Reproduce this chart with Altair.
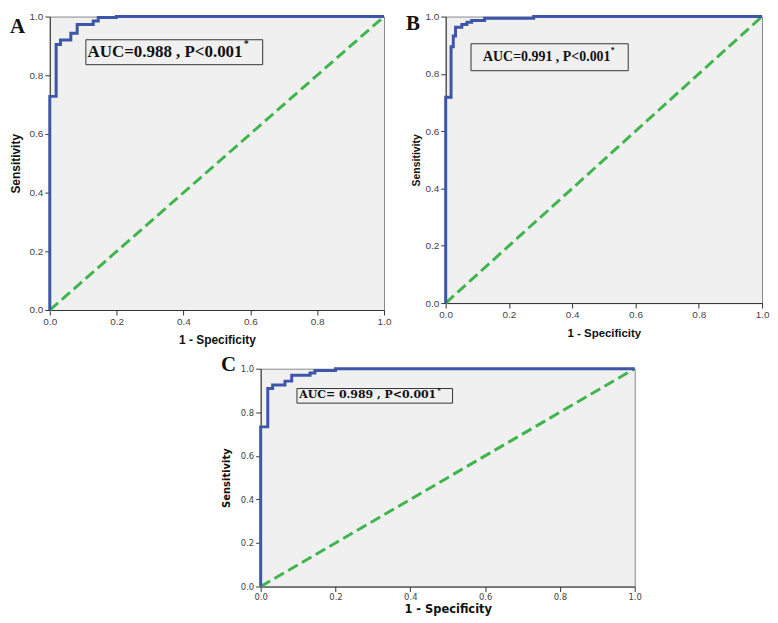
import altair as alt
import pandas as pd

# ---------------- data ----------------
TICKS = [0.0, 0.2, 0.4, 0.6, 0.8, 1.0]

a_fpr = [0, 0, 0.019, 0.019, 0.032, 0.032, 0.063, 0.063, 0.082, 0.082, 0.130, 0.130, 0.145, 0.145, 0.199, 0.199, 1.0]
a_tpr = [0, 0.728, 0.728, 0.905, 0.905, 0.920, 0.920, 0.943, 0.943, 0.973, 0.973, 0.985, 0.985, 0.997, 0.997, 1.0, 1.0]

b_fpr = [0, 0, 0.017, 0.017, 0.024, 0.024, 0.031, 0.031, 0.051, 0.051, 0.067, 0.067, 0.082, 0.082, 0.123, 0.123, 0.278, 0.278, 1.0]
b_tpr = [0, 0.718, 0.718, 0.895, 0.895, 0.932, 0.932, 0.963, 0.963, 0.972, 0.972, 0.980, 0.980, 0.986, 0.986, 0.994, 0.994, 1.0, 1.0]

c_fpr = [0, 0, 0.019, 0.019, 0.032, 0.032, 0.065, 0.065, 0.083, 0.083, 0.132, 0.132, 0.145, 0.145, 0.200, 0.200, 1.0]
c_tpr = [0, 0.733, 0.733, 0.909, 0.909, 0.925, 0.925, 0.943, 0.943, 0.970, 0.970, 0.980, 0.980, 0.992, 0.992, 1.0, 1.0]

diag_fpr = [0.0, 1.0]
diag_tpr = [0.0, 1.0]

letters = ["A", "B", "C"]
auc_labels = ["AUC=0.988 , P<0.001", "AUC=0.991 , P<0.001", "AUC= 0.989 , P<0.001"]
star = "*"

BLUE = "#3d56a8"
GREEN = "#3fb54b"
BG = "#f0f0f0"


def panel(fpr, tpr, letter, label, box, text_xy, star_xy, w, h, st):
    xs = alt.Scale(domain=[0, 1], nice=False, zero=False)
    ys = alt.Scale(domain=[0, 1], nice=False, zero=False)
    xaxis = alt.Axis(values=TICKS, format=".1f", grid=False, labelFlush=False, labelOverlap=False,
                     tickSize=5, tickColor="#333", domainColor="#333",
                     labelFont=st["lf"], labelFontSize=st["ls"], labelColor="#444", labelPadding=st["lpx"],
                     titleFont=st["tf"], titleFontSize=st["tsx"], titleFontWeight="bold", titleColor="#111",
                     titlePadding=st["tpx"])
    yaxis = alt.Axis(values=TICKS, format=".1f", grid=False, labelFlush=False, labelOverlap=False,
                     tickSize=5, tickColor="#333", domainColor="#333",
                     labelFont=st["lf"], labelFontSize=st["ls"], labelColor="#444", labelPadding=2,
                     titleFont=st["tf"], titleFontSize=st["tsy"], titleFontWeight="bold", titleColor="#111",
                     titlePadding=st["tpy"])
    X = alt.X("fpr:Q", scale=xs, axis=xaxis, title="1 - Specificity")
    Y = alt.Y("tpr:Q", scale=ys, axis=yaxis, title="Sensitivity")

    roc_df = pd.DataFrame({"fpr": fpr, "tpr": tpr, "i": list(range(len(fpr)))})
    diag_df = pd.DataFrame({"fpr": diag_fpr, "tpr": diag_tpr, "i": [0, 1]})
    box_df = pd.DataFrame({"fpr": [box[0]], "fpr2": [box[1]], "tpr": [box[2]], "tpr2": [box[3]]})
    txt_df = pd.DataFrame({"fpr": [text_xy[0]], "tpr": [text_xy[1]], "label": [label]})
    star_df = pd.DataFrame({"fpr": [star_xy[0]], "tpr": [star_xy[1]], "label": [star]})
    let_df = pd.DataFrame({"label": [letter]})

    diag = alt.Chart(diag_df).mark_line(color=GREEN, strokeWidth=3, strokeDash=[11, 5]).encode(
        x=X, y=Y, order="i:Q")
    roc = alt.Chart(roc_df).mark_line(color=BLUE, strokeWidth=3, interpolate="linear").encode(
        x=X, y=Y, order="i:Q")
    rect = alt.Chart(box_df).mark_rect(fill=BG, stroke="#333", strokeWidth=1).encode(
        x=X, x2=alt.X2("fpr2:Q"), y=Y, y2=alt.Y2("tpr2:Q"))
    txt = alt.Chart(txt_df).mark_text(align="left", baseline="middle", font=st["af"],
                                      fontWeight="bold", fontSize=st["as"], color="#111").encode(
        x=X, y=Y, text="label:N")
    stx = alt.Chart(star_df).mark_text(align="left", baseline="middle", font=st["af"],
                                       fontWeight="bold", fontSize=st["ss"], color="#111").encode(
        x=X, y=Y, text="label:N")
    let = alt.Chart(let_df).mark_text(align="left", baseline="alphabetic", font="Liberation Serif",
                                      fontWeight="bold", fontSize=21, color="#111").encode(
        x=alt.value(-40), y=alt.value(st["ly"]), text="label:N")

    return alt.layer(diag, roc, rect, txt, stx, let).properties(
        width=w, height=h,
        view=alt.ViewBackground(fill=BG, stroke="#888", strokeWidth=1))


st_a = dict(lf="Liberation Sans", ls=10, lpx=2, tf="Liberation Sans", tsx=12, tsy=12, tpx=8, tpy=7,
            af="Liberation Serif", **{"as": 17}, ss=10, ly=17)
st_b = dict(lf="Liberation Sans", ls=10, lpx=2, tf="Liberation Sans", tsx=11.5, tsy=10.5, tpx=8, tpy=3,
            af="Liberation Serif", **{"as": 14}, ss=8, ly=14)
st_c = dict(lf="DejaVu Sans", ls=8.5, lpx=1, tf="DejaVu Sans", tsx=11.5, tsy=10, tpx=3, tpy=9,
            af="DejaVu Serif", **{"as": 11}, ss=7, ly=2)

pa = panel(a_fpr, a_tpr, letters[0], auc_labels[0],
           (0.108, 0.637, 0.921, 0.836), (0.113, 0.878), (0.580, 0.905), 336, 295, st_a)
pb = panel(b_fpr, b_tpr, letters[1], auc_labels[1],
           (0.080, 0.577, 0.905, 0.811), (0.118, 0.858), (0.522, 0.878), 318, 288, st_b)
pc = panel(c_fpr, c_tpr, letters[2], auc_labels[2],
           (0.097, 0.513, 0.909, 0.842), (0.103, 0.877), (0.472, 0.896), 376, 219, st_c)

spacer = alt.Chart(pd.DataFrame({"k": [0]})).mark_point(opacity=0).encode(
    x=alt.value(0), y=alt.value(0)).properties(
    width=158, height=10, view=alt.ViewBackground(stroke="transparent", fill="transparent"))

top_row = alt.hconcat(pa, pb, spacing=13)
bottom_row = alt.hconcat(spacer, pc, spacing=12)

chart = alt.vconcat(top_row, bottom_row, spacing=6).properties(
    padding=0, background="white")

chart.save("out.html", embed_options={"renderer": "svg", "actions": False})
